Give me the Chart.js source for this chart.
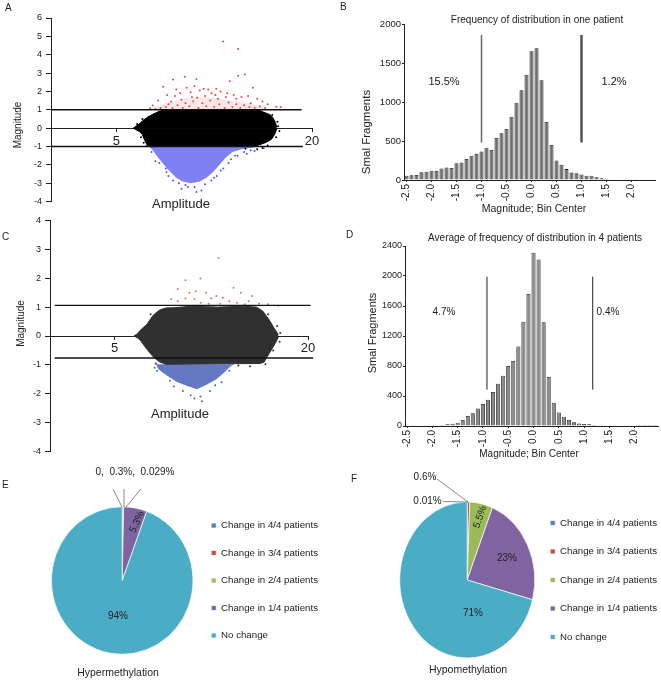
<!DOCTYPE html>
<html>
<head>
<meta charset="utf-8">
<script src="https://cdn.jsdelivr.net/npm/chart.js@4.4.1/dist/chart.umd.min.js"></script>
<style>
html, body { margin: 0; padding: 0; background: #fff; overflow: hidden; }
#page { position: relative; width: 661px; height: 682px; overflow: hidden; font-family: "Liberation Sans", Arial, sans-serif; }
canvas { position: absolute; }
.tag { position: absolute; font-size: 10px; line-height: 10px; color: #222; }
</style>
</head>
<body>
<div id="page">
  <canvas id="chartA" width="330" height="211" style="left:0;top:0;width:330px;height:211px"></canvas>
  <canvas id="chartB" width="331" height="222" style="left:330px;top:0;width:331px;height:222px"></canvas>
  <canvas id="chartC" width="330" height="250" style="left:0;top:211px;width:330px;height:250px"></canvas>
  <canvas id="chartD" width="331" height="240" style="left:330px;top:225px;width:331px;height:240px"></canvas>
  <canvas id="chartE" width="328" height="222" style="left:0;top:460px;width:328px;height:222px"></canvas>
  <canvas id="chartF" width="337" height="222" style="left:330px;top:460px;width:337px;height:222px"></canvas>
  <div class="tag" style="left:5px;top:3px">A</div>
  <div class="tag" style="left:340px;top:2px">B</div>
  <div class="tag" style="left:2px;top:232px">C</div>
  <div class="tag" style="left:346px;top:230px">D</div>
  <div class="tag" style="left:2px;top:480px">E</div>
  <div class="tag" style="left:351px;top:474px">F</div>
</div>
<script>
// ---- MA plots (A: one patient, C: 4 patients) ----
const ampTicks = [5, 20];
const magTicksA = [-4, -3, -2, -1, 0, 1, 2, 3, 4, 5, 6];
const magTicksC = [-4, -3, -2, -1, 0, 1, 2, 3, 4];

// threshold lines [magnitude, amplitude start, amplitude end]
const cutLinesA = [[1, 0, 19.2], [-1, 0, 19.3]];
const cutLinesC = [[1.06, 0.36, 20.2], [-0.76, 0.36, 20.4]];

// outline of the dense black cloud [amplitude, magnitude]
const cloudTopA = [[6.3,0],[6.5,0.1],[6.8,0.25],[7.1,0.45],[7.4,0.6],[7.7,0.72],[8.0,0.82],[8.3,0.92],[8.6,0.98],[9.0,1.0],[15.9,1.0],[16.25,0.88],[16.75,0.75],[17.0,0.58],[17.2,0.3],[17.3,0.05]];
const cloudBottomA = [[6.3,0],[6.5,-0.08],[6.8,-0.2],[7.0,-0.35],[7.2,-0.7],[7.4,-0.95],[7.6,-1.0],[15.5,-1.0],[16.0,-0.9],[16.5,-0.77],[16.9,-0.6],[17.15,-0.32],[17.3,-0.05]];
const blackDotsA = [[17.4,0.1],[17.5,-0.15],[17.35,0.35],[17.25,-0.5],[16.95,0.72],[6.9,-0.5],[7.1,-0.8],[7.3,-0.98],[16.2,-1.08],[15.8,-1.15],[14.9,-1.12],[16.6,-0.95],[6.6,0.22],[7.0,0.5]];
const redHazeA = [[7.5,1.0],[8.0,1.15],[8.5,1.3],[9.5,1.5],[10.5,1.65],[11.5,1.7],[12.5,1.65],[13.5,1.55],[14.5,1.45],[15.5,1.3],[16.2,1.15],[16.8,1.0]];
const blueCoreA = [[7.5,-1.0],[7.8,-1.2],[8.1,-1.5],[8.6,-1.95],[9.1,-2.35],[9.6,-2.7],[10.1,-2.9],[10.7,-3.0],[11.4,-2.9],[11.9,-2.7],[12.4,-2.4],[12.9,-2.0],[13.4,-1.6],[13.9,-1.3],[14.6,-1.15],[15.5,-1.05],[16.0,-1.0]];
const redDotsA = [[7.8,1.24],[8.2,1.5],[8.6,2.25],[8.9,1.8],[9.2,1.45],[9.36,2.65],[9.6,2.1],[9.9,1.9],[10.25,2.8],[10.4,2.2],[10.7,1.95],[11.0,2.3],[11.14,2.68],[11.4,2.05],[11.7,2.15],[12.04,2.1],[12.3,1.9],[12.67,2.14],[13.0,2.0],[13.19,4.72],[13.5,1.9],[13.7,2.56],[14.0,1.8],[14.34,2.86],[14.34,4.31],[14.6,1.7],[14.85,2.92],[15.1,1.75],[15.48,2.2],[15.8,1.6],[16.2,1.45],[16.6,1.3],[17.27,1.17],[10.0,1.55],[12.8,1.6],[11.2,1.65],[9.0,1.3],[15.3,1.35],
    [8.4,1.1],[8.8,1.15],[9.3,1.1],[9.7,1.25],[10.1,1.1],[10.3,1.35],[10.6,1.2],[10.9,1.45],[11.3,1.1],[11.6,1.35],[11.9,1.2],[12.2,1.5],[12.5,1.15],[12.9,1.3],[13.3,1.1],[13.6,1.4],[13.9,1.15],[14.2,1.3],[14.5,1.1],[14.8,1.25],[15.2,1.15],[15.6,1.1],[16.0,1.2],[16.4,1.1],[9.5,1.75],[10.8,1.7],[11.8,1.75],[12.6,1.8],[13.4,1.7],[14.2,1.6],[8.0,1.05],[7.6,1.08],[17.6,1.15]];
const blueDotsA = [[10.0,-3.3],[11.15,-3.48],[11.53,-3.39],[10.5,-3.2],[9.36,-2.85],[12.29,-2.85],[8.85,-2.4],[12.7,-2.6],[13.2,-2.2],[14.3,-1.5],[15.0,-1.4],[15.6,-1.25],[8.0,-1.8],[13.8,-1.7],
    [7.7,-1.3],[8.3,-1.9],[8.8,-2.2],[9.0,-2.6],[9.8,-3.0],[10.3,-3.1],[11.0,-3.2],[11.8,-3.05],[12.5,-2.7],[13.0,-2.3],[13.6,-1.9],[14.1,-1.5],[14.8,-1.3],[15.3,-1.2],[16.3,-1.1]];

const cloudTopC = [[6.5,0],[6.8,0.08],[7.0,0.2],[7.5,0.4],[8.0,0.72],[8.5,0.9],[9.0,0.97],[9.6,0.98],[11.0,1.03],[13.0,1.0],[15.0,1.03],[16.0,1.0],[16.5,0.86],[17.0,0.55],[17.4,0.25],[17.7,0.05]];
const cloudBottomC = [[6.5,0],[6.8,-0.07],[7.0,-0.15],[7.5,-0.45],[8.0,-0.72],[8.5,-0.9],[9.0,-0.98],[16.3,-0.95],[16.6,-0.9],[17.0,-0.6],[17.4,-0.3],[17.7,-0.05]];
const blackDotsC = [[17.85,0.1],[17.8,-0.2],[17.6,0.35],[17.3,-0.5],[16.9,0.75],[16.7,-0.98],[7.8,0.75],[8.2,-0.95],[15.5,-1.05],[14.6,-1.02]];
const blueCoreC = [[8.2,-0.98],[8.4,-1.15],[9.0,-1.35],[9.8,-1.58],[10.6,-1.72],[11.4,-1.84],[12.2,-1.67],[12.9,-1.5],[13.5,-1.26],[14.0,-1.05],[14.3,-0.98]];
const redDotsC = [[13.07,2.70],[11.66,1.99],[10.5,1.93],[9.9,1.63],[10.8,1.5],[11.3,1.55],[12.1,1.5],[12.5,1.3],[12.9,1.38],[13.4,1.32],[14.23,1.67],[14.8,1.5],[15.65,1.38],[15.4,1.2],[13.9,1.2],[11.7,1.15],[11.2,1.28],[10.5,1.3],[9.4,1.28],[9.9,1.2],[14.5,1.15],[16.2,1.12],[16.9,1.1],[17.7,1.05],[12.3,1.12],[13.2,1.12],[15.1,1.1]];
const blueDotsC = [[11.66,-2.09],[11.79,-2.26],[11.19,-2.16],[10.3,-1.9],[12.4,-1.9],[9.3,-1.55],[8.3,-1.2],[13.3,-1.6],[10.9,-2.05],[8.1,-1.1],[9.6,-1.75],[12.8,-1.7],[13.9,-1.2]];

// ---- histograms (B: one patient, D: average of 4 patients) ----
const binCenters = [-2.5,-2.4,-2.3,-2.2,-2.1,-2.0,-1.9,-1.8,-1.7,-1.6,-1.5,-1.4,-1.3,-1.2,-1.1,-1.0,-0.9,-0.8,-0.7,-0.6,-0.5,-0.4,-0.3,-0.2,-0.1,
                    0.0,0.1,0.2,0.3,0.4,0.5,0.6,0.7,0.8,0.9,1.0,1.1,1.2,1.3,1.4,1.5,1.6,1.7,1.8,1.9,2.0,2.1,2.2,2.3,2.4];
const binTicks = [-2.5,-2.0,-1.5,-1.0,-0.5,0.0,0.5,1.0,1.5,2.0];
const countsOnePatient = [56,60,65,100,105,120,115,148,160,155,215,225,270,310,335,365,415,385,540,600,655,810,990,1150,1350,
                          1650,1690,1280,745,450,250,195,140,95,85,70,55,55,35,22,15,10,8,6,5,5,4,3,2,2];
const countsFourPatients = [2,2,3,3,4,5,6,13,22,31,45,80,135,170,234,295,350,455,565,670,800,866,1060,1390,1760,
                            2310,2220,1385,655,310,180,125,80,50,35,28,22,15,10,6,5,4,3,2,2,2,1,1,1,1];
const fragTicksB = [0, 500, 1000, 1500, 2000];
const fragTicksD = [0, 400, 800, 1200, 1600, 2000, 2400];
const cutoffsB = [-1.0, 1.0];
const cutoffSpanB = [480, 1860];
const cutoffsD = [-0.92, 1.17];
const cutoffSpanD = [485, 1990];

// ---- pies ----
const pieLabels = ["Change in 4/4 patients", "Change in 3/4 patients", "Change in 2/4 patients", "Change in 1/4 patients", "No change"];
const hyperShares = [0, 0.3, 0.029, 5.3, 94];
const hypoShares = [0.01, 0.6, 5.5, 23, 71];
const pieColors = ["#4f81bd", "#c0504d", "#9bbb59", "#8064a2", "#4bacc6"];

Chart.defaults.font.family = '"Liberation Sans", Arial, sans-serif';
Chart.defaults.color = "#222";

const pts = arr => arr.map(p => ({ x: p[0], y: p[1] }));

// free text and leader lines, canvas pixel positions
function notes(texts, lines) {
    return {
        id: "notes",
        afterDraw(chart) {
            const ctx = chart.ctx;
            ctx.save();
            (lines || []).forEach(l => {
                ctx.beginPath();
                ctx.strokeStyle = l.color || "#555";
                ctx.lineWidth = l.w || 0.7;
                ctx.moveTo(l.x1, l.y1);
                ctx.lineTo(l.x2, l.y2);
                ctx.stroke();
            });
            texts.forEach(t => {
                ctx.save();
                ctx.translate(t.x, t.y);
                ctx.rotate((t.rot || 0) * Math.PI / 180);
                ctx.font = `${t.size || 10}px "Liberation Sans", Arial, sans-serif`;
                ctx.fillStyle = "#222";
                ctx.textAlign = t.align || "center";
                ctx.textBaseline = "middle";
                ctx.fillText(t.t, 0, 0);
                ctx.restore();
            });
            ctx.restore();
        }
    };
}

// the original pies are slightly oval; dx nudges the pie without moving the legend
function squash(sx, sy, dx) {
    return {
        id: "squash",
        beforeDatasetsDraw(chart) {
            const arc = chart.getDatasetMeta(0).data[0];
            const ctx = chart.ctx;
            ctx.save();
            ctx.translate(arc.x + dx, arc.y);
            ctx.scale(sx, sy);
            ctx.translate(-arc.x, -arc.y);
        },
        afterDatasetsDraw(chart) {
            chart.ctx.restore();
        }
    };
}

function maScales(magTicks, yWidth) {
    return {
        x: {
            type: "linear", min: 0, max: 20, position: { y: 0 },
            border: { color: "#222", width: 1 },
            grid: { drawOnChartArea: false, tickLength: 3, color: "#222" },
            afterBuildTicks: s => { s.ticks = ampTicks.map(v => ({ value: v })); },
            ticks: { font: { size: 13 }, color: "#222", padding: 2, autoSkip: false, maxRotation: 0 },
            afterFit: s => { s.height = 0; }
        },
        y: {
            min: magTicks[0], max: magTicks[magTicks.length - 1],
            border: { color: "#222", width: 1 },
            grid: { drawOnChartArea: false, tickLength: 5, color: "#222" },
            afterBuildTicks: s => { s.ticks = magTicks.map(v => ({ value: v })); },
            ticks: { font: { size: 9 }, color: "#222", padding: 4 },
            afterFit: s => { s.width = yWidth; }
        }
    };
}

function maDatasets(m) {
    const line = c => ({
        data: [{ x: c[1], y: c[0] }, { x: c[2], y: c[0] }],
        borderColor: "#111", borderWidth: 1.4, pointRadius: 0, fill: false, clip: false
    });
    const dots = (arr, color) => ({
        data: pts(arr), showLine: false, pointRadius: 1, pointBorderWidth: 0,
        pointBackgroundColor: color, borderColor: color
    });
    const area = (arr, color, base, edge) => ({
        data: pts(arr), pointRadius: 0, borderWidth: edge, borderColor: color,
        backgroundColor: color, fill: { value: base }, tension: 0
    });
    const sets = m.cuts.map(line);
    sets.push(dots(m.redDots, m.red), dots(m.blueDots, m.blue), dots(m.blackDots, m.cloud));
    sets.push(area(m.top, m.cloud, 0, 1), area(m.bottom, m.cloud, 0, 1));
    if (m.haze) sets.push(area(m.haze, "rgba(230,80,80,0.14)", 1, 0));
    sets.push(area(m.blueCore, m.blueFill, m.blueBase, 0));
    return sets;
}

const common = { responsive: false, animation: false, events: [] };
const quiet = { legend: { display: false }, tooltip: { enabled: false } };

// A
new Chart(document.getElementById("chartA"), {
    type: "line",
    data: { datasets: maDatasets({
        cuts: cutLinesA, top: cloudTopA, bottom: cloudBottomA, haze: redHazeA,
        blueCore: blueCoreA, blueBase: -1, redDots: redDotsA, blueDots: blueDotsA, blackDots: blackDotsA,
        cloud: "#000", red: "#e04848", blue: "#5050ee", blueFill: "rgba(96,96,242,0.8)"
    }) },
    options: { ...common, layout: { padding: { left: 0, right: 18, top: 18, bottom: 8 } },
        scales: maScales(magTicksA, 51), plugins: quiet },
    plugins: [notes([
        { t: "Magnitude", x: 18, y: 125, rot: -90, size: 10 },
        { t: "Amplitude", x: 181, y: 204, size: 13 }
    ])]
});

// C
new Chart(document.getElementById("chartC"), {
    type: "line",
    data: { datasets: maDatasets({
        cuts: cutLinesC, top: cloudTopC, bottom: cloudBottomC, haze: null,
        blueCore: blueCoreC, blueBase: -0.98, redDots: redDotsC, blueDots: blueDotsC, blackDots: blackDotsC,
        cloud: "#303030", red: "#e07070", blue: "#4a62b8", blueFill: "rgba(66,90,182,0.82)"
    }) },
    options: { ...common, layout: { padding: { left: 0, right: 22, top: 7, bottom: 9 } },
        scales: maScales(magTicksC, 50), plugins: quiet },
    plugins: [notes([
        { t: "Magnitude", x: 21, y: 112.5, rot: -90, size: 10 },
        { t: "Amplitude", x: 180, y: 203, size: 13 }
    ])]
});

function histogram(id, counts, fragTicks, cutoffs, span, xMin, xMax, yWidth, xHeight, pad, fill, cutStyles, tickSize, texts) {
    const datasets = cutoffs.map((c, i) => ({
        type: "line", data: [{ x: c, y: span[0] }, { x: c, y: span[1] }],
        borderColor: cutStyles[i].color, borderWidth: cutStyles[i].w, pointRadius: 0, fill: false
    }));
    datasets.push({
        type: "bar", data: binCenters.map((b, i) => ({ x: b, y: counts[i] })),
        backgroundColor: fill, borderColor: "#1a1a1a", borderWidth: 0.8,
        barPercentage: 0.8, categoryPercentage: 1
    });
    new Chart(document.getElementById(id), {
        type: "bar",
        data: { datasets },
        options: { ...common, layout: { padding: pad },
            scales: {
                x: {
                    type: "linear", min: xMin, max: xMax, offset: false,
                    border: { color: "#222" },
                    grid: { drawOnChartArea: false, tickLength: 2, color: "#222", offset: false },
                    afterBuildTicks: s => { s.ticks = binTicks.map(v => ({ value: v })); },
                    ticks: { autoSkip: false, minRotation: 90, maxRotation: 90, padding: 2,
                        font: { size: 10 }, color: "#222", callback: v => Number(v).toFixed(1) },
                    afterFit: s => { s.height = xHeight; }
                },
                y: {
                    min: fragTicks[0], max: fragTicks[fragTicks.length - 1],
                    border: { color: "#222" },
                    grid: { drawOnChartArea: false, tickLength: 2, color: "#222" },
                    afterBuildTicks: s => { s.ticks = fragTicks.map(v => ({ value: v })); },
                    ticks: { font: { size: tickSize }, color: "#222", padding: 1, callback: v => String(v) },
                    afterFit: s => { s.width = yWidth; }
                }
            },
            plugins: quiet
        },
        plugins: [notes(texts)]
    });
}

// B
histogram("chartB", countsOnePatient, fragTicksB, cutoffsB, cutoffSpanB, -2.55, 2.47, 74, 42,
    { left: 0, right: 6, top: 24, bottom: 0 }, "#6e6e6e",
    [{ color: "#666", w: 1.5 }, { color: "#555", w: 2.5 }], 9.5, [
        { t: "Frequency of distribution in one patient", x: 207, y: 20, size: 10 },
        { t: "15.5%", x: 114, y: 82, size: 11 },
        { t: "1.2%", x: 284, y: 82, size: 11 },
        { t: "Smal Fragments", x: 37, y: 132, rot: -90, size: 11.5 },
        { t: "Magnitude; Bin Center", x: 204, y: 209, size: 10.5 }
    ]);

// D
histogram("chartD", countsFourPatients, fragTicksD, cutoffsD, cutoffSpanD, -2.54, 2.46, 75, 39,
    { left: 0, right: 3, top: 21, bottom: 0 }, "#8a8a8a",
    [{ color: "#222", w: 1 }, { color: "#222", w: 1 }], 9, [
        { t: "Average of frequency of distribution in 4 patients", x: 205, y: 13, size: 10 },
        { t: "4.7%", x: 114, y: 87, size: 10 },
        { t: "0.4%", x: 278, y: 87, size: 10 },
        { t: "Smal Fragments", x: 42.5, y: 108, rot: -90, size: 11 },
        { t: "Magnitude; Bin Center", x: 199, y: 229, size: 10 }
    ]);

function pie(id, shares, pad, legendPad, sx, sy, dx, texts, lines) {
    new Chart(document.getElementById(id), {
        type: "pie",
        data: {
            labels: pieLabels,
            datasets: [{ data: shares, backgroundColor: pieColors, borderColor: "#fff", borderWidth: 0.7 }]
        },
        options: { ...common, radius: 72, layout: { padding: pad },
            plugins: {
                tooltip: { enabled: false },
                legend: {
                    position: "right",
                    labels: { boxWidth: 5, boxHeight: 5, padding: legendPad, color: "#222", font: { size: 9.7 } }
                }
            }
        },
        plugins: [squash(sx, sy, dx), notes(texts, lines)]
    });
}

// E
pie("chartE", hyperShares, { left: 51, right: 0, top: 19, bottom: 0 }, 17.8, 0.983, 1.024, 0, [
    { t: "0,  0.3%,  0.029%", x: 135, y: 12, size: 10 },
    { t: "5.3%", x: 137, y: 62, rot: -65, size: 10 },
    { t: "94%", x: 118, y: 156, size: 10 },
    { t: "Hypermethylation", x: 118, y: 213, size: 10.5 }
], [
    { x1: 113, y1: 29, x2: 122, y2: 47 },
    { x1: 124, y1: 29, x2: 124, y2: 47 },
    { x1: 141, y1: 29, x2: 126, y2: 47 }
]);

// F
pie("chartF", hypoShares, { left: 63, right: 0, top: 18, bottom: 0 }, 18.8, 0.9375, 1.083, 5, [
    { t: "0.6%", x: 95, y: 17, size: 10 },
    { t: "0.01%", x: 97.5, y: 41.5, size: 10 },
    { t: "5.5%", x: 150, y: 57, rot: -72, size: 10 },
    { t: "23%", x: 177, y: 98, size: 10 },
    { t: "71%", x: 143, y: 153, size: 10 },
    { t: "Hypomethylation", x: 138, y: 210, size: 10.5 }
], [
    { x1: 107, y1: 19, x2: 138, y2: 42 },
    { x1: 113, y1: 41.5, x2: 138, y2: 42 }
]);
</script>
</body>
</html>
